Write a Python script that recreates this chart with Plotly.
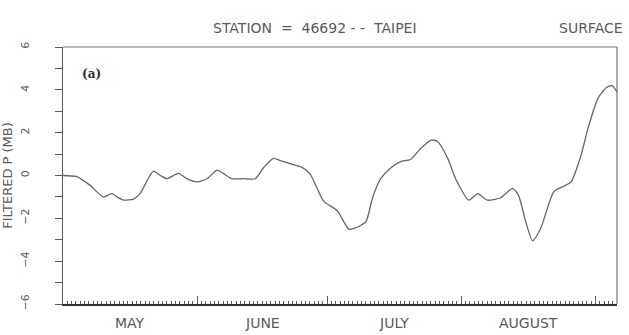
import plotly.graph_objects as go

# Filtered surface pressure series, day 0 = 1 May
days = [0, 3.2, 6.2, 9.3, 11.3, 12.5, 14, 16.3, 17.8, 19.4, 20.9, 22.5, 24, 26.7,
        28.6, 31, 33.3, 35.6, 37, 39, 41.7, 44.4, 46.3, 48.6, 50.2, 52.5, 55, 57,
        58.5, 60.2, 63.4, 66, 67.6, 70, 71.5, 73.4, 75.7, 78, 80.3, 82.6, 85, 86.5,
        88.9, 90.7, 93.8, 95.8, 98, 101, 103.9, 105.3, 106.9, 108.5, 110.4, 113.4,
        115.7, 117.4, 119.7, 121.3, 123.6, 125.5, 126.9, 128]
pressure = [0, -0.05, -0.45, -1.0, -0.85, -1.0, -1.15, -1.1, -0.85, -0.25, 0.2, 0.0,
            -0.15, 0.1, -0.15, -0.3, -0.15, 0.25, 0.1, -0.15, -0.15, -0.15, 0.35, 0.8,
            0.7, 0.55, 0.4, 0.1, -0.5, -1.2, -1.65, -2.5, -2.45, -2.15, -1.05, -0.15,
            0.35, 0.65, 0.75, 1.25, 1.65, 1.6, 0.8, -0.15, -1.15, -0.85, -1.15, -1.05,
            -0.6, -0.95, -2.15, -3.05, -2.45, -0.75, -0.5, -0.3, 0.95, 2.2, 3.6, 4.1,
            4.2, 3.9]

months = ["MAY", "JUNE", "JULY", "AUGUST"]
month_days = [31, 30, 31, 31]
y_ticks = [-6, -4, -2, 0, 2, 4, 6]

# month boundaries and mid-month label positions
bounds, mids, start = [], [], 0
for n in month_days:
    mids.append(start + n / 2)
    start += n
    bounds.append(start)

ink = "#5a5a5a"
fam = "DejaVu Sans"

fig = go.Figure()
fig.add_trace(go.Scatter(x=days, y=pressure, mode="lines",
                         line=dict(color="#666666", width=1.3, shape="spline", smoothing=0.6),
                         hoverinfo="skip"))

fig.update_layout(
    width=629, height=335,
    margin=dict(l=63, r=12, t=47, b=31, autoexpand=False),
    paper_bgcolor="white", plot_bgcolor="white",
    showlegend=False,
    font=dict(family=fam, size=11, color=ink),
    xaxis=dict(range=[0, 128], showgrid=False, zeroline=False, automargin=False,
               showline=True, linecolor="#333333", linewidth=2,
               tickvals=bounds, ticks="inside", ticklen=8, tickcolor=ink,
               showticklabels=False,
               minor=dict(dtick=1, tick0=0, ticks="inside", ticklen=3, tickcolor=ink)),
    yaxis=dict(range=[-6, 6], showgrid=False, zeroline=False, automargin=False,
               showline=True, linecolor=ink, linewidth=1.2,
               tickvals=y_ticks, ticks="outside", ticklen=7, tickcolor=ink,
               ticklabelstandoff=22,
               tickangle=-90, tickfont=dict(family=fam, size=11, color=ink),
               minor=dict(dtick=1, ticks="outside", ticklen=7, tickcolor=ink),
               title=dict(text="FILTERED P (MB)", standoff=4,
                          font=dict(family=fam, size=13, color=ink))),
)

# top and right frame lines
fig.add_shape(type="line", xref="paper", yref="paper", x0=0, x1=1, y0=1, y1=1,
              line=dict(color="#777777", width=1.2))
fig.add_shape(type="line", xref="paper", yref="paper", x0=1, x1=1, y0=0, y1=1,
              line=dict(color="#777777", width=1.2))

for name, m in zip(months, mids):
    fig.add_annotation(x=m, y=0, xref="x", yref="paper", text=name, showarrow=False,
                       yanchor="top", yshift=-9, font=dict(family=fam, size=14, color=ink))

fig.add_annotation(x=0.455, y=1, xref="paper", yref="paper", yanchor="bottom", yshift=9,
                   text="STATION  =  46692 - -  TAIPEI", showarrow=False,
                   font=dict(family=fam, size=14, color=ink))
fig.add_annotation(x=1.015, y=1, xref="paper", yref="paper", xanchor="right", yanchor="bottom",
                   yshift=9, text="SURFACE", showarrow=False,
                   font=dict(family=fam, size=14, color=ink))
fig.add_annotation(x=0.03, y=0.93, xref="paper", yref="paper", xanchor="left",
                   text="<b>(a)</b>", showarrow=False,
                   font=dict(family="DejaVu Serif", size=12, color="#333333"))

fig.write_html("out.html")
